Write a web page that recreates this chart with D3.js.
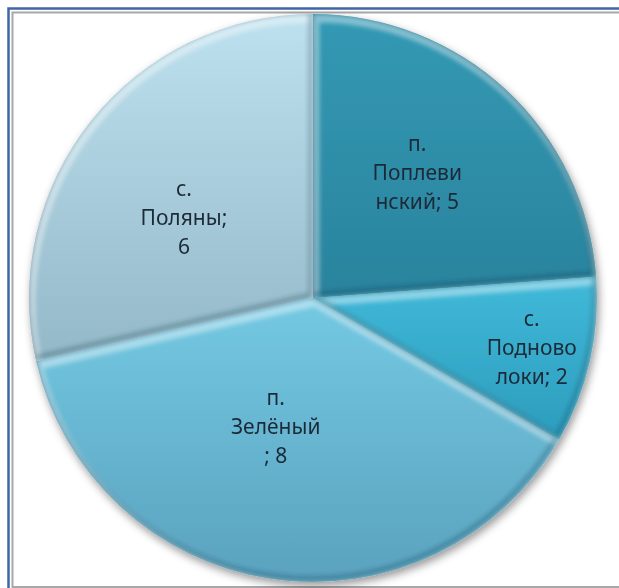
<!DOCTYPE html>
<html>
<head>
<meta charset="utf-8">
<script src="https://cdn.jsdelivr.net/npm/d3@7"></script>
<style>
  body { margin: 0; background: #fff; }
  text { font-family: "Noto Sans", "Open Sans", sans-serif; }
</style>
</head>
<body>
<svg width="619" height="588"></svg>
<script>
// Data
const names = ["п. Поплевинский", "с. Подноволоки", "п. Зелёный", "с. Поляны"];
const values = [5, 2, 8, 6];
const labelLines = [
    ["п.", "Поплеви", "нский; 5"],
    ["с.", "Подново", "локи; 2"],
    ["п.", "Зелёный", "; 8"],
    ["с.", "Поляны;", "6"]
];
// slice colours (top, bottom of gradient)
const topColors = ["#3399b4", "#41b9d9", "#74c9e3", "#bee1ef"];
const bottomColors = ["#2a839d", "#2c9cbc", "#5aa2be", "#93b8c7"];

const width = 619, height = 588;
const svg = d3.select("svg");
const defs = svg.append("defs");

// Frame
svg.append("rect")
    .attr("x", 8.5).attr("y", 8.5)
    .attr("width", 640).attr("height", 620)
    .attr("fill", "none")
    .attr("stroke", "#3f66a6")
    .attr("stroke-width", 2.5);
svg.append("rect")
    .attr("x", 12.5).attr("y", 12.5)
    .attr("width", 640).attr("height", 574.5)
    .attr("fill", "none")
    .attr("stroke", "#a8a8a8")
    .attr("stroke-width", 2);

// Pie geometry
const cx = 313, cy = 298, r = 284;

const pie = d3.pie().sort(null).value(d => d);
const arcs = pie(values);
const arc = d3.arc().innerRadius(0).outerRadius(r);

// Filters
const shadow = defs.append("filter").attr("id", "shadow")
    .attr("x", "-10%").attr("y", "-10%").attr("width", "120%").attr("height", "120%");
shadow.append("feDropShadow")
    .attr("dx", 2).attr("dy", 4)
    .attr("stdDeviation", 4)
    .attr("flood-color", "#000")
    .attr("flood-opacity", 0.4);

const soft = defs.append("filter").attr("id", "soft")
    .attr("x", "-20%").attr("y", "-20%").attr("width", "140%").attr("height", "140%");
soft.append("feGaussianBlur").attr("stdDeviation", 2);

// Gradients and clip paths, one per slice
arcs.forEach((a, i) => {
    const g = defs.append("linearGradient")
        .attr("id", "grad" + i)
        .attr("x1", 0).attr("y1", 0).attr("x2", 0).attr("y2", 1);
    g.append("stop").attr("offset", "0%").attr("stop-color", topColors[i]);
    g.append("stop").attr("offset", "100%").attr("stop-color", bottomColors[i]);

    defs.append("clipPath").attr("id", "clip" + i)
        .append("path").attr("d", arc(a));
});

const pieG = svg.append("g")
    .attr("transform", `translate(${cx},${cy})`);

const shadowG = pieG.append("g").attr("filter", "url(#shadow)");

const slices = shadowG.selectAll("g.slice")
    .data(arcs)
    .enter()
    .append("g")
    .attr("class", "slice");

slices.append("path")
    .attr("d", arc)
    .attr("fill", (d, i) => `url(#grad${i})`);

// bevel: light edges facing up-left, darker edges facing down-right
const bevel = slices.append("g")
    .attr("clip-path", (d, i) => `url(#clip${i})`);

bevel.append("path")
    .attr("d", arc)
    .attr("fill", "none")
    .attr("stroke", "#ffffff")
    .attr("stroke-width", 9)
    .attr("stroke-opacity", 0.4)
    .attr("transform", "translate(2,4)")
    .attr("filter", "url(#soft)");

bevel.append("path")
    .attr("d", arc)
    .attr("fill", "none")
    .attr("stroke", "#0b3443")
    .attr("stroke-width", 6)
    .attr("stroke-opacity", 0.25)
    .attr("transform", "translate(-2,-3)")
    .attr("filter", "url(#soft)");

// Labels: centroid of the slice, small nudges like Excel's best fit
const labelNudge = [[-2, -11], [0, 0], [-14, -26], [-7, 17]];
const lineHeight = 29;
const labels = pieG.selectAll("text.label")
    .data(arcs)
    .enter()
    .append("text")
    .attr("class", "label")
    .attr("text-anchor", "middle")
    .attr("font-size", 21)
    .attr("fill", "#1c2a38")
    .attr("transform", (d, i) => {
        const span = d.endAngle - d.startAngle;
        const lr = span < 0.7 ? r * 0.79 : r * 0.55;
        const c = d3.arc().innerRadius(lr).outerRadius(lr).centroid(d);
        return `translate(${c[0] + labelNudge[i][0]},${c[1] + labelNudge[i][1]})`;
    });

labels.each(function (d, i) {
    const lines = labelLines[i];
    const t = d3.select(this);
    lines.forEach((line, k) => {
        t.append("tspan")
            .attr("x", 0)
            .attr("y", (k - (lines.length - 1) / 2) * lineHeight)
            .attr("dy", "0.35em")
            .text(line);
    });
});

labels.append("title").text((d, i) => `${names[i]}: ${values[i]}`);
</script>
</body>
</html>
